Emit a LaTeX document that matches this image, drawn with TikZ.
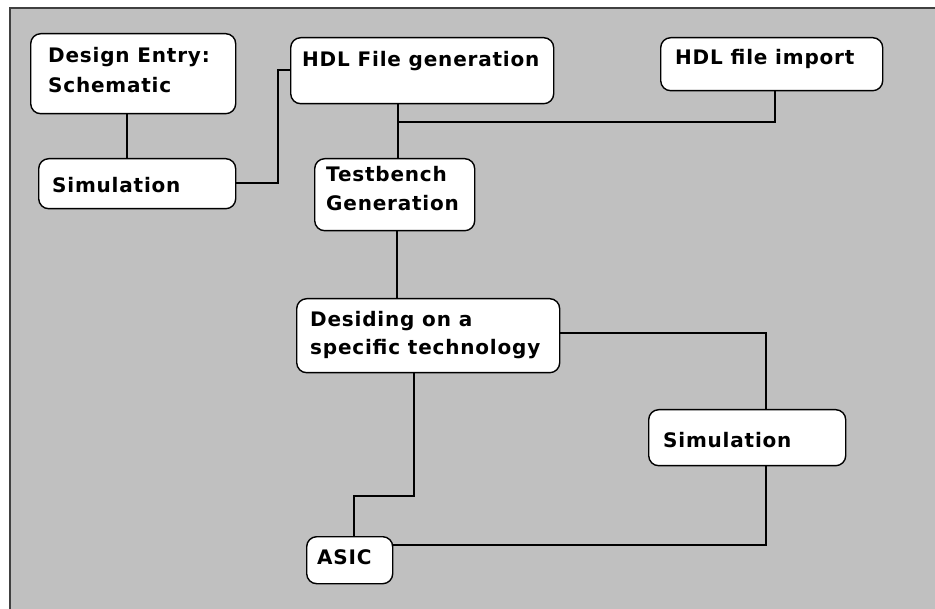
\documentclass[tikz,border=0pt]{standalone}
\usepackage{fontspec}
\newfontfamily\flowfont[LetterSpace=4]{DejaVu Sans Bold}
\usetikzlibrary{calc}
\definecolor{panel}{HTML}{C0C0C0}
\definecolor{frameline}{HTML}{404040}
\tikzset{
  stagebox/.style={draw=black, line width=1.4pt, fill=white, rounded corners=10pt,
    inner sep=0pt, anchor=north west},
  stagetext/.style={font=\flowfont\fontsize{20}{29}\selectfont, align=left,
    inner sep=0pt, anchor=base west},
  link/.style={draw=black, line width=1.4pt},
}
\newcommand{\stage}[5]{% name, left, top, right, bottom
  \node[stagebox, minimum width={(#4-#2)*1pt}, minimum height={(#5-#3)*1pt}] (#1) at (#2,#3) {};
}
\begin{document}
\begin{tikzpicture}[x=1pt, y=-1pt]
  \useasboundingbox (0,0) rectangle (935,609);
  % grey panel with its dark top and left edge
  \fill[white] (0,0) rectangle (935,609);
  \fill[panel] (10,8) rectangle (935,609);
  \draw[frameline, line width=2pt] (10,609) -- (10,8) -- (935,8);

  % stage boxes
  \stage{de}{30}{33}{235}{113}
  \stage{simA}{38}{158}{235}{208}
  \stage{hdl}{290}{37}{553}{103}
  \stage{imp}{660}{37}{882}{90}
  \stage{tb}{314}{158}{474}{230}
  \stage{dec}{296}{298}{559}{372}
  \stage{simB}{648}{409}{845}{465}
  \stage{asic}{306}{536}{392}{583}

  % stage labels
  \node[stagetext] (deT)   at (48,63)   {Design Entry:};
  \node[stagetext] (deT2)  at (48,93)   {Schematic};
  \node[stagetext] (simAT) at (52,193)  {Simulation};
  \node[stagetext] (hdlT)  at (302,67)  {HDL File generation};
  \node[stagetext] (impT)  at (675,65)  {HDL file import};
  \node[stagetext] (tbT)   at (326,182) {Testbench};
  \node[stagetext] (tbT2)  at (326,211) {Generation};
  \node[stagetext] (decT)  at (310,327) {Desiding on a};
  \node[stagetext] (decT2) at (310,355) {specific technology};
  \node[stagetext] (simBT) at (663,448) {Simulation};
  \node[stagetext] (asicT) at (317,565) {ASIC};

  % junction points of the connectors
  \coordinate (hdlJoin) at (398,122);
  \coordinate (impJoin) at (775,122);
  \coordinate (simAUp)  at (278,183);
  \coordinate (simAHi)  at (278,70);
  \coordinate (decR)    at (766,333);
  \coordinate (decStepA) at (414,496);
  \coordinate (decStepB) at (354,496);
  \coordinate (asicR)   at (766,545);

  % connectors
  \draw[link] (de.south -| 127,0) -- (simA.north -| 127,0);
  \draw[link] (simA.east |- simAUp) -- (simAUp) -- (simAHi) -- (hdl.west |- simAHi);
  \draw[link] (hdl.south -| hdlJoin) -- (hdlJoin) -- (tb.north -| hdlJoin);
  \draw[link] (hdlJoin) -- (impJoin) -- (imp.south -| impJoin);
  \draw[link] (tb.south -| 397,0) -- (dec.north -| 397,0);
  \draw[link] (dec.east |- decR) -- (decR) -- (simB.north -| decR);
  \draw[link] (dec.south -| decStepA) -- (decStepA) -- (decStepB) -- (asic.north -| decStepB);
  \draw[link] (asic.east |- asicR) -- (asicR) -- (simB.south -| asicR);
\end{tikzpicture}
\end{document}
